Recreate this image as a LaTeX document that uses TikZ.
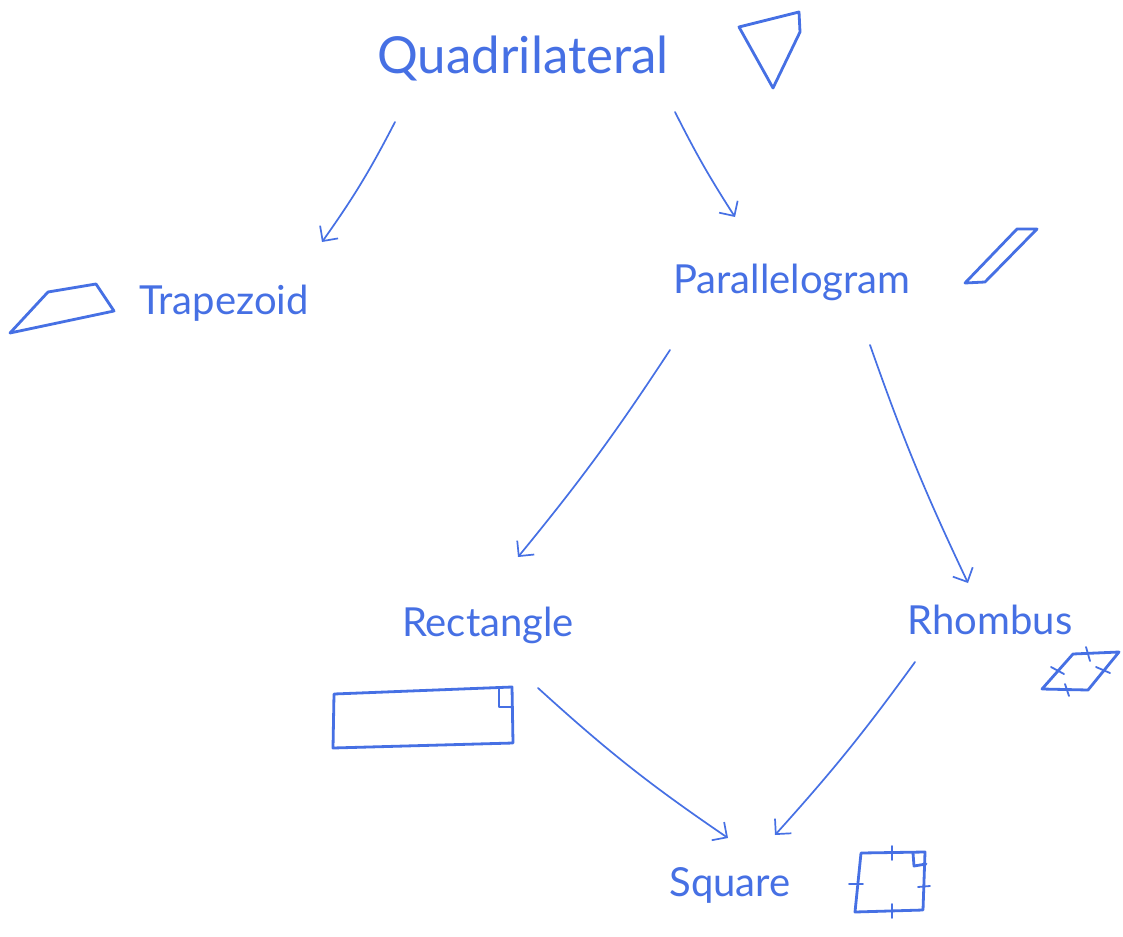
\documentclass[tikz,border=0pt]{standalone}
\usepackage{fontspec}
\setmainfont{Lato}
\usetikzlibrary{arrows.meta}
\definecolor{ink}{RGB}{70,112,228}
\begin{document}
\begin{tikzpicture}[x=1pt,y=-1pt,
  lbl/.style={text=ink,font=\fontsize{40}{42}\selectfont,inner sep=0pt},
  shp/.style={draw=ink,line width=2.8pt,line join=round,line cap=round},
  tick/.style={draw=ink,line width=1.8pt,line cap=round},
  conn/.style={draw=ink,line width=1.7pt,line cap=round,-{Straight Barb[length=11pt,width=22pt,line width=1.7pt]}}]
\useasboundingbox[fill=white] (0,0) rectangle (1123,936);
% labels
\node[lbl,font=\fontsize{51}{53}\selectfont] (quad) at (523,58) {Quadrilateral};
\node[lbl] (trap) at (224,303) {Trapezoid};
\node[lbl] (para) at (792,282) {Parallelogram};
\node[lbl] (rect) at (488,625) {Rectangle};
\node[lbl] (rhom) at (990,620) {Rhombus};
\node[lbl] (sq) at (730,885) {Square};
% shapes
\draw[shp] (739,27) -- (799,12) -- (800,32) -- (773,88) -- cycle;
\draw[shp] (10,333) -- (48,292) -- (96,284) -- (114,311) -- cycle;
\draw[shp] (965,283) -- (1017,229) -- (1037,229) -- (985,282) -- cycle;
\draw[shp] (334,694) -- (512,687) -- (513,743) -- (333,748) -- cycle;
\draw[shp] (499,688) -- (499,707) -- (512,707);
\draw[shp] (1042,689) -- (1073,654) -- (1119,652) -- (1088,690) -- cycle;
\draw[tick] (1086,647) -- (1090,661);
\draw[tick] (1051,667) -- (1064,674);
\draw[tick] (1096,667) -- (1110,673);
\draw[tick] (1065,684) -- (1069,696);
\draw[shp] (861,853) -- (925,852) -- (923,910) -- (855,912) -- cycle;
\draw[shp] (913,853) -- (914,866) -- (926,864);
\draw[tick] (892,846) -- (892,860);
\draw[tick] (849,884) -- (863,884);
\draw[tick] (918,887) -- (930,886);
\draw[tick] (892,904) -- (892,918);
% connector ends
\coordinate (q1) at (395,122);
\coordinate (t1) at (322,242);
\coordinate (q2) at (675,112);
\coordinate (p1) at (735,217);
\coordinate (p2) at (670,350);
\coordinate (r1) at (518,557);
\coordinate (p3) at (870,345);
\coordinate (h1) at (968,583);
\coordinate (r2) at (538,688);
\coordinate (s1) at (728,838);
\coordinate (h2) at (915,662);
\coordinate (s2) at (775,835);
\draw[conn] (q1) to[bend left=4] (t1);
\draw[conn] (q2) to[bend right=3] (p1);
\draw[conn] (p2) to[bend left=3] (r1);
\draw[conn] (p3) to[bend right=3] (h1);
\draw[conn] (r2) to[bend right=4] (s1);
\draw[conn] (h2) to[bend left=3] (s2);
\end{tikzpicture}
\end{document}
